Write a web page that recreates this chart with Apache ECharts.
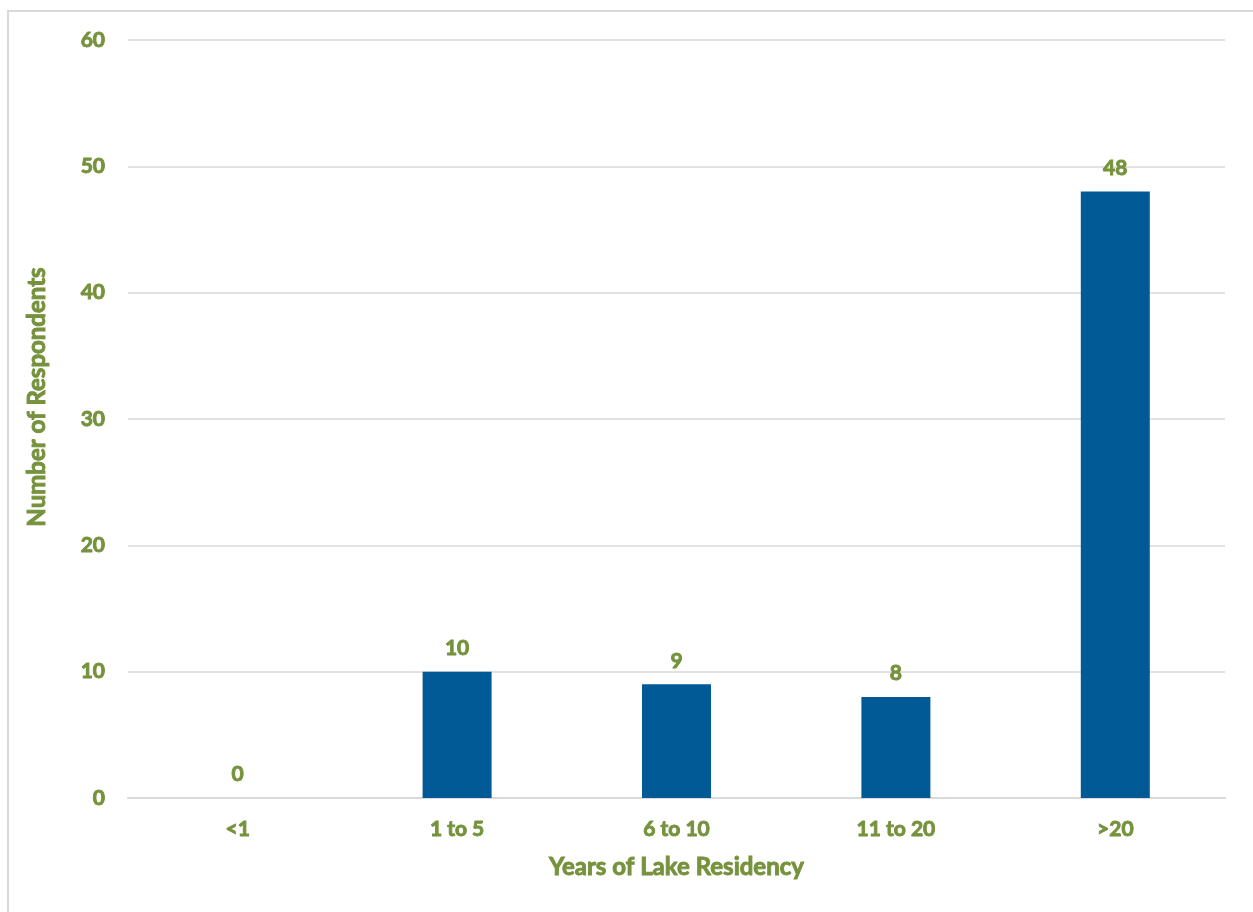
<!DOCTYPE html>
<html>
<head>
<meta charset="utf-8">
<script src="https://cdn.jsdelivr.net/npm/echarts@6/dist/echarts.min.js"></script>
<style>
  html, body { margin: 0; padding: 0; background: #fff; }
  #frame { position: absolute; left: 7px; top: 10px; width: 1260px; height: 920px; border: 2px solid #d9d9d9; box-sizing: border-box; }
  #chart { position: absolute; left: 0; top: 0; width: 1253px; height: 912px; }
</style>
</head>
<body>
<div id="frame"></div>
<div id="chart"></div>
<script>
// Respondents grouped by how long they have lived at the lake
const categories = ['<1', '1 to 5', '6 to 10', '11 to 20', '>20'];
const respondents = [0, 10, 9, 8, 48];
const yTicks = { min: 0, max: 60, interval: 10 };

const olive = '#76923c';
// heavy olive text, thickened slightly with a same-colour outline
const textStyle = (size) => ({
  color: olive,
  fontFamily: 'Lato, "Open Sans", sans-serif',
  fontWeight: 'bold',
  fontSize: size,
  textBorderColor: olive,
  textBorderWidth: 0.9
});

const chart = echarts.init(document.getElementById('chart'));
chart.setOption({
  animation: false,
  grid: { left: 128, right: 28, top: 40, bottom: 114, containLabel: false },
  xAxis: {
    type: 'category',
    data: categories,
    name: 'Years of Lake Residency',
    nameLocation: 'middle',
    nameGap: 57,
    nameTextStyle: textStyle(24),
    axisLine: { show: true, lineStyle: { color: '#d9d9d9', width: 2 } },
    axisTick: { show: false },
    axisLabel: Object.assign(textStyle(21), { margin: 21 })
  },
  yAxis: {
    type: 'value',
    min: yTicks.min,
    max: yTicks.max,
    interval: yTicks.interval,
    name: 'Number of Respondents',
    nameLocation: 'middle',
    nameGap: 79,
    nameRotate: 90,
    nameTextStyle: Object.assign(textStyle(24), { padding: [0, 0, 0, 44] }),
    axisLine: { show: false },
    axisTick: { show: false },
    axisLabel: Object.assign(textStyle(21), { margin: 23 }),
    splitLine: { lineStyle: { color: '#d9d9d9', width: 1.5 } }
  },
  series: [{
    type: 'bar',
    data: respondents,
    barWidth: 69,
    itemStyle: { color: '#005a96' },
    label: Object.assign(textStyle(21), {
      show: true,
      position: 'top',
      distance: 13
    })
  }]
});
</script>
</body>
</html>
